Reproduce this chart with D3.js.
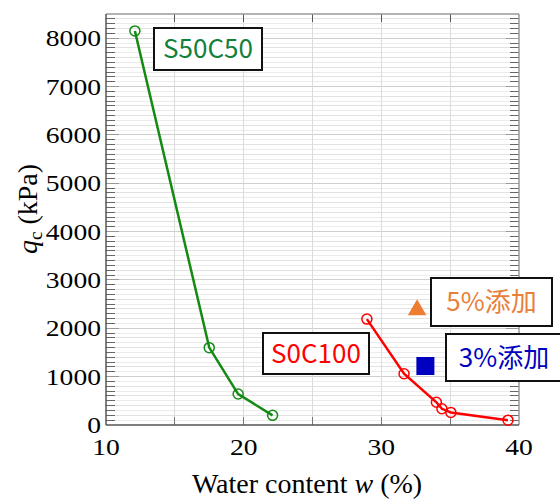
<!DOCTYPE html>
<html>
<head>
<meta charset="utf-8">
<script src="https://cdn.jsdelivr.net/npm/d3@7"></script>
<style>
  body { margin: 0; background: #fff; }
  svg { display: block; }
</style>
</head>
<body>
<div id="chart"></div>
<script>
// S50C50 series (water content %, qc kPa)
var s50W = [12.1, 17.5, 19.6, 22.1];
var s50Q = [8150, 1600, 640, 200];
// S0C100 series
var s0W = [28.95, 31.65, 34.0, 34.4, 35.05, 39.2];
var s0Q = [2190, 1060, 470, 335, 260, 100];
// additive points
var add5 = {w: 32.6, q: 2380};
var add3 = {w: 33.2, q: 1220};

var xTicks = [10, 20, 30, 40];
var yTicks = [0, 1000, 2000, 3000, 4000, 5000, 6000, 7000, 8000];

var W = 560, H = 502;
var margin = {top: 14, right: 41, bottom: 77, left: 106};

var svg = d3.select("#chart").append("svg").attr("width", W).attr("height", H);

var x = d3.scaleLinear().domain([10, 40]).range([margin.left, W - margin.right]);
var y = d3.scaleLinear().domain([0, 8500]).range([H - margin.bottom, margin.top]);

var x0 = x.range()[0], x1 = x.range()[1], y0 = y.range()[0], y1 = y.range()[1];

// grid
var g = svg.append("g");
g.selectAll(".hminor").data(d3.range(100, 8500, 100)).enter().append("line")
  .attr("x1", x0).attr("x2", x1)
  .attr("y1", function(d) { return y(d); }).attr("y2", function(d) { return y(d); })
  .attr("stroke", function(d) { return d % 1000 == 0 ? "#cfcfcf" : (d % 200 == 0 ? "#e2e2e2" : "#ececec"); })
  .attr("stroke-width", 1).attr("shape-rendering", "crispEdges");
g.selectAll(".vgrid").data([15, 20, 25, 30, 35]).enter().append("line")
  .attr("x1", function(d) { return x(d); }).attr("x2", function(d) { return x(d); })
  .attr("y1", y1).attr("y2", y0)
  .attr("stroke", "#dcdcdc").attr("stroke-width", 1).attr("shape-rendering", "crispEdges");

// ticks on all sides, pointing inward
var ticks = svg.append("g").attr("shape-rendering", "crispEdges");
d3.range(100, 8500, 100).forEach(function(d) {
  var len = d % 1000 == 0 ? 13 : 9;
  var col = d % 1000 == 0 ? "#999" : "#666";
  ticks.append("line").attr("x1", x0).attr("x2", x0 + len).attr("y1", y(d)).attr("y2", y(d)).attr("stroke", col);
  ticks.append("line").attr("x1", x1).attr("x2", x1 - len).attr("y1", y(d)).attr("y2", y(d)).attr("stroke", col);
});
[15, 20, 25, 30, 35].forEach(function(d) {
  ticks.append("line").attr("x1", x(d)).attr("x2", x(d)).attr("y1", y0).attr("y2", y0 - 8).attr("stroke", "#777");
  ticks.append("line").attr("x1", x(d)).attr("x2", x(d)).attr("y1", y1).attr("y2", y1 + 8).attr("stroke", "#555");
});

// frame
svg.append("line").attr("x1", x0).attr("x2", x1).attr("y1", y1).attr("y2", y1).attr("stroke", "#999").attr("stroke-width", 1.5);
svg.append("line").attr("x1", x1).attr("x2", x1).attr("y1", y1).attr("y2", y0).attr("stroke", "#999").attr("stroke-width", 1.5);
svg.append("line").attr("x1", x0).attr("x2", x1).attr("y1", y0).attr("y2", y0).attr("stroke", "#555").attr("stroke-width", 1.5);
svg.append("line").attr("x1", x0).attr("x2", x0).attr("y1", y1).attr("y2", y0).attr("stroke", "#555").attr("stroke-width", 1.5);

// tick labels (the source stretches them a little sideways)
var serif = "'Liberation Serif', 'DejaVu Serif', serif";
svg.selectAll(".ylab").data(yTicks).enter().append("text")
  .attr("transform", function(d) { return "translate(" + (x0 - 5) + "," + (y(d) + 8) + ") scale(1.2,1)"; })
  .attr("text-anchor", "end").attr("font-family", serif).attr("font-size", 23)
  .text(function(d) { return d; });
svg.selectAll(".xlab").data(xTicks).enter().append("text")
  .attr("transform", function(d) { return "translate(" + x(d) + "," + (y0 + 30) + ") scale(1.2,1)"; })
  .attr("text-anchor", "middle").attr("font-family", serif).attr("font-size", 23)
  .text(function(d) { return d; });

// axis titles
var xt = svg.append("text").attr("x", 307).attr("y", 493).attr("text-anchor", "middle")
  .attr("font-family", serif).attr("font-size", 28);
xt.append("tspan").text("Water content  ");
xt.append("tspan").attr("font-style", "italic").text("w");
xt.append("tspan").text(" (%)");

var yt = svg.append("text").attr("transform", "translate(37,209) rotate(-90)").attr("text-anchor", "middle")
  .attr("font-family", serif).attr("font-size", 28);
yt.append("tspan").attr("font-style", "italic").text("q");
yt.append("tspan").attr("font-size", 19).attr("dy", 5).text("c");
yt.append("tspan").attr("dy", -5).text(" (kPa)");

// series
var line = d3.line().x(function(d) { return x(d[0]); }).y(function(d) { return y(d[1]); });
function series(ws, qs, col) {
  var pts = ws.map(function(w, i) { return [w, qs[i]]; });
  svg.append("path").datum(pts).attr("d", line).attr("fill", "none")
    .attr("stroke", col).attr("stroke-width", 2.5);
  svg.selectAll(null).data(pts).enter().append("circle")
    .attr("cx", function(d) { return x(d[0]); }).attr("cy", function(d) { return y(d[1]); })
    .attr("r", 5).attr("fill", "none").attr("stroke", col).attr("stroke-width", 1.5);
}
series(s50W, s50Q, "#138a13");
series(s0W, s0Q, "#ff0000");

svg.append("path").attr("d", d3.symbol().type(d3.symbolTriangle).size(150)())
  .attr("transform", "translate(" + x(add5.w) + "," + y(add5.q) + ")").attr("fill", "#ed7d31");
svg.append("rect").attr("x", x(add3.w) - 9).attr("y", y(add3.q) - 9).attr("width", 18).attr("height", 18)
  .attr("fill", "#0000c0");

// labels in boxes
var sans = "'Noto Sans CJK JP', 'Noto Sans', sans-serif";
function box(bx, by, bw, bh, txt, col) {
  svg.append("rect").attr("x", bx).attr("y", by).attr("width", bw).attr("height", bh)
    .attr("fill", "#fff").attr("stroke", "#111").attr("stroke-width", 2);
  svg.append("text").attr("x", bx + bw / 2).attr("y", by + bh / 2 + 9).attr("text-anchor", "middle")
    .attr("font-family", sans).attr("font-size", 26)
    .attr("fill", col).text(txt);
}
box(154, 28, 108, 42, "S50C50", "#10803a");
box(263, 333, 106, 41, "S0C100", "#ff0000");
box(431, 278, 121, 48, "5%添加", "#e8803a");
box(446, 334, 116, 47, "3%添加", "#0000c0");
</script>
</body>
</html>
